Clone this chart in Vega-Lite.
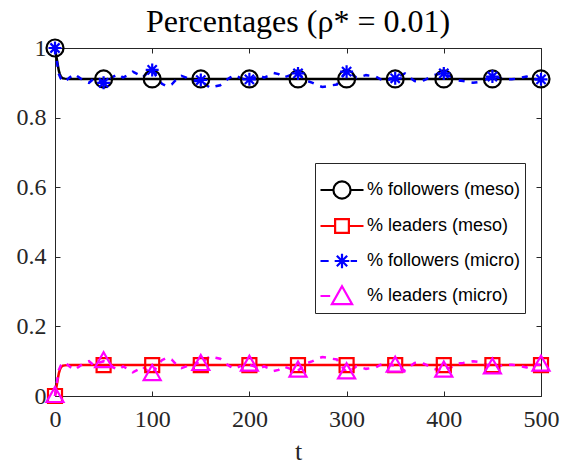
{
  "$schema": "https://vega.github.io/schema/vega-lite/v6.json",
  "width": 486,
  "height": 348,
  "autosize": {"type": "none"},
  "padding": {"left": 55, "top": 48, "right": 24, "bottom": 70},
  "background": "white",
  "title": {"text": "Percentages (ρ* = 0.01)", "font": "Liberation Serif", "fontSize": 32, "fontWeight": "normal", "color": "#000000", "baseline": "bottom", "offset": 8, "dy": 44},
  "datasets": {
    "meso": [
      {"s": "% followers (meso)", "t": 0, "v": 1}, {"s": "% followers (meso)", "t": 1, "v": 0.983}, {"s": "% followers (meso)", "t": 2, "v": 0.966}, {"s": "% followers (meso)", "t": 3, "v": 0.949}, {"s": "% followers (meso)", "t": 4, "v": 0.934}, {"s": "% followers (meso)", "t": 5, "v": 0.925}, {"s": "% followers (meso)", "t": 6, "v": 0.918}, {"s": "% followers (meso)", "t": 7, "v": 0.915}, {"s": "% followers (meso)", "t": 8, "v": 0.913}, {"s": "% followers (meso)", "t": 10, "v": 0.912}, {"s": "% followers (meso)", "t": 15, "v": 0.911}, {"s": "% followers (meso)", "t": 50, "v": 0.911}, {"s": "% followers (meso)", "t": 100, "v": 0.911}, {"s": "% followers (meso)", "t": 150, "v": 0.911}, {"s": "% followers (meso)", "t": 200, "v": 0.911}, {"s": "% followers (meso)", "t": 250, "v": 0.911}, {"s": "% followers (meso)", "t": 300, "v": 0.911}, {"s": "% followers (meso)", "t": 350, "v": 0.911}, {"s": "% followers (meso)", "t": 400, "v": 0.911}, {"s": "% followers (meso)", "t": 450, "v": 0.911}, {"s": "% followers (meso)", "t": 500, "v": 0.911},
      {"s": "% leaders (meso)", "t": 0, "v": 0}, {"s": "% leaders (meso)", "t": 1, "v": 0.017}, {"s": "% leaders (meso)", "t": 2, "v": 0.034}, {"s": "% leaders (meso)", "t": 3, "v": 0.051}, {"s": "% leaders (meso)", "t": 4, "v": 0.066}, {"s": "% leaders (meso)", "t": 5, "v": 0.075}, {"s": "% leaders (meso)", "t": 6, "v": 0.082}, {"s": "% leaders (meso)", "t": 7, "v": 0.085}, {"s": "% leaders (meso)", "t": 8, "v": 0.087}, {"s": "% leaders (meso)", "t": 10, "v": 0.088}, {"s": "% leaders (meso)", "t": 15, "v": 0.089}, {"s": "% leaders (meso)", "t": 50, "v": 0.089}, {"s": "% leaders (meso)", "t": 100, "v": 0.089}, {"s": "% leaders (meso)", "t": 150, "v": 0.089}, {"s": "% leaders (meso)", "t": 200, "v": 0.089}, {"s": "% leaders (meso)", "t": 250, "v": 0.089}, {"s": "% leaders (meso)", "t": 300, "v": 0.089}, {"s": "% leaders (meso)", "t": 350, "v": 0.089}, {"s": "% leaders (meso)", "t": 400, "v": 0.089}, {"s": "% leaders (meso)", "t": 450, "v": 0.089}, {"s": "% leaders (meso)", "t": 500, "v": 0.089}
    ],
    "micro": [
      {"s": "% followers (micro)", "t": 0, "v": 1}, {"s": "% followers (micro)", "t": 2, "v": 0.96}, {"s": "% followers (micro)", "t": 4, "v": 0.925}, {"s": "% followers (micro)", "t": 6, "v": 0.912}, {"s": "% followers (micro)", "t": 8, "v": 0.905}, {"s": "% followers (micro)", "t": 10, "v": 0.903}, {"s": "% followers (micro)", "t": 15, "v": 0.915}, {"s": "% followers (micro)", "t": 20, "v": 0.925}, {"s": "% followers (micro)", "t": 25, "v": 0.915}, {"s": "% followers (micro)", "t": 30, "v": 0.905}, {"s": "% followers (micro)", "t": 35, "v": 0.9}, {"s": "% followers (micro)", "t": 40, "v": 0.912}, {"s": "% followers (micro)", "t": 45, "v": 0.905}, {"s": "% followers (micro)", "t": 50, "v": 0.9}, {"s": "% followers (micro)", "t": 55, "v": 0.905}, {"s": "% followers (micro)", "t": 60, "v": 0.918}, {"s": "% followers (micro)", "t": 65, "v": 0.925}, {"s": "% followers (micro)", "t": 70, "v": 0.915}, {"s": "% followers (micro)", "t": 75, "v": 0.922}, {"s": "% followers (micro)", "t": 80, "v": 0.932}, {"s": "% followers (micro)", "t": 85, "v": 0.925}, {"s": "% followers (micro)", "t": 90, "v": 0.915}, {"s": "% followers (micro)", "t": 95, "v": 0.928}, {"s": "% followers (micro)", "t": 100, "v": 0.937}, {"s": "% followers (micro)", "t": 105, "v": 0.915}, {"s": "% followers (micro)", "t": 110, "v": 0.897}, {"s": "% followers (micro)", "t": 115, "v": 0.89}, {"s": "% followers (micro)", "t": 120, "v": 0.895}, {"s": "% followers (micro)", "t": 125, "v": 0.91}, {"s": "% followers (micro)", "t": 130, "v": 0.92}, {"s": "% followers (micro)", "t": 135, "v": 0.915}, {"s": "% followers (micro)", "t": 140, "v": 0.905}, {"s": "% followers (micro)", "t": 145, "v": 0.905}, {"s": "% followers (micro)", "t": 150, "v": 0.908}, {"s": "% followers (micro)", "t": 155, "v": 0.895}, {"s": "% followers (micro)", "t": 160, "v": 0.885}, {"s": "% followers (micro)", "t": 165, "v": 0.89}, {"s": "% followers (micro)", "t": 170, "v": 0.893}, {"s": "% followers (micro)", "t": 175, "v": 0.905}, {"s": "% followers (micro)", "t": 180, "v": 0.915}, {"s": "% followers (micro)", "t": 185, "v": 0.922}, {"s": "% followers (micro)", "t": 190, "v": 0.915}, {"s": "% followers (micro)", "t": 195, "v": 0.91}, {"s": "% followers (micro)", "t": 200, "v": 0.91}, {"s": "% followers (micro)", "t": 205, "v": 0.915}, {"s": "% followers (micro)", "t": 210, "v": 0.922}, {"s": "% followers (micro)", "t": 215, "v": 0.915}, {"s": "% followers (micro)", "t": 220, "v": 0.92}, {"s": "% followers (micro)", "t": 225, "v": 0.928}, {"s": "% followers (micro)", "t": 230, "v": 0.925}, {"s": "% followers (micro)", "t": 235, "v": 0.915}, {"s": "% followers (micro)", "t": 240, "v": 0.92}, {"s": "% followers (micro)", "t": 245, "v": 0.925}, {"s": "% followers (micro)", "t": 250, "v": 0.927}, {"s": "% followers (micro)", "t": 255, "v": 0.915}, {"s": "% followers (micro)", "t": 260, "v": 0.905}, {"s": "% followers (micro)", "t": 265, "v": 0.9}, {"s": "% followers (micro)", "t": 270, "v": 0.893}, {"s": "% followers (micro)", "t": 275, "v": 0.888}, {"s": "% followers (micro)", "t": 280, "v": 0.89}, {"s": "% followers (micro)", "t": 285, "v": 0.893}, {"s": "% followers (micro)", "t": 290, "v": 0.895}, {"s": "% followers (micro)", "t": 295, "v": 0.915}, {"s": "% followers (micro)", "t": 300, "v": 0.932}, {"s": "% followers (micro)", "t": 305, "v": 0.925}, {"s": "% followers (micro)", "t": 310, "v": 0.915}, {"s": "% followers (micro)", "t": 315, "v": 0.918}, {"s": "% followers (micro)", "t": 320, "v": 0.922}, {"s": "% followers (micro)", "t": 325, "v": 0.92}, {"s": "% followers (micro)", "t": 330, "v": 0.918}, {"s": "% followers (micro)", "t": 335, "v": 0.91}, {"s": "% followers (micro)", "t": 340, "v": 0.905}, {"s": "% followers (micro)", "t": 345, "v": 0.91}, {"s": "% followers (micro)", "t": 350, "v": 0.913}, {"s": "% followers (micro)", "t": 355, "v": 0.92}, {"s": "% followers (micro)", "t": 360, "v": 0.927}, {"s": "% followers (micro)", "t": 365, "v": 0.915}, {"s": "% followers (micro)", "t": 370, "v": 0.905}, {"s": "% followers (micro)", "t": 375, "v": 0.903}, {"s": "% followers (micro)", "t": 380, "v": 0.908}, {"s": "% followers (micro)", "t": 385, "v": 0.915}, {"s": "% followers (micro)", "t": 390, "v": 0.922}, {"s": "% followers (micro)", "t": 395, "v": 0.925}, {"s": "% followers (micro)", "t": 400, "v": 0.927}, {"s": "% followers (micro)", "t": 405, "v": 0.92}, {"s": "% followers (micro)", "t": 410, "v": 0.915}, {"s": "% followers (micro)", "t": 415, "v": 0.907}, {"s": "% followers (micro)", "t": 420, "v": 0.905}, {"s": "% followers (micro)", "t": 425, "v": 0.902}, {"s": "% followers (micro)", "t": 430, "v": 0.9}, {"s": "% followers (micro)", "t": 435, "v": 0.902}, {"s": "% followers (micro)", "t": 440, "v": 0.905}, {"s": "% followers (micro)", "t": 445, "v": 0.912}, {"s": "% followers (micro)", "t": 450, "v": 0.918}, {"s": "% followers (micro)", "t": 455, "v": 0.915}, {"s": "% followers (micro)", "t": 460, "v": 0.912}, {"s": "% followers (micro)", "t": 465, "v": 0.91}, {"s": "% followers (micro)", "t": 470, "v": 0.91}, {"s": "% followers (micro)", "t": 475, "v": 0.912}, {"s": "% followers (micro)", "t": 480, "v": 0.915}, {"s": "% followers (micro)", "t": 485, "v": 0.918}, {"s": "% followers (micro)", "t": 490, "v": 0.913}, {"s": "% followers (micro)", "t": 495, "v": 0.91}, {"s": "% followers (micro)", "t": 500, "v": 0.91},
      {"s": "% leaders (micro)", "t": 0, "v": 0}, {"s": "% leaders (micro)", "t": 2, "v": 0.04}, {"s": "% leaders (micro)", "t": 4, "v": 0.075}, {"s": "% leaders (micro)", "t": 6, "v": 0.088}, {"s": "% leaders (micro)", "t": 8, "v": 0.095}, {"s": "% leaders (micro)", "t": 10, "v": 0.097}, {"s": "% leaders (micro)", "t": 15, "v": 0.085}, {"s": "% leaders (micro)", "t": 20, "v": 0.075}, {"s": "% leaders (micro)", "t": 25, "v": 0.085}, {"s": "% leaders (micro)", "t": 30, "v": 0.095}, {"s": "% leaders (micro)", "t": 35, "v": 0.1}, {"s": "% leaders (micro)", "t": 40, "v": 0.088}, {"s": "% leaders (micro)", "t": 45, "v": 0.095}, {"s": "% leaders (micro)", "t": 50, "v": 0.1}, {"s": "% leaders (micro)", "t": 55, "v": 0.095}, {"s": "% leaders (micro)", "t": 60, "v": 0.082}, {"s": "% leaders (micro)", "t": 65, "v": 0.075}, {"s": "% leaders (micro)", "t": 70, "v": 0.085}, {"s": "% leaders (micro)", "t": 75, "v": 0.078}, {"s": "% leaders (micro)", "t": 80, "v": 0.068}, {"s": "% leaders (micro)", "t": 85, "v": 0.075}, {"s": "% leaders (micro)", "t": 90, "v": 0.085}, {"s": "% leaders (micro)", "t": 95, "v": 0.072}, {"s": "% leaders (micro)", "t": 100, "v": 0.063}, {"s": "% leaders (micro)", "t": 105, "v": 0.085}, {"s": "% leaders (micro)", "t": 110, "v": 0.103}, {"s": "% leaders (micro)", "t": 115, "v": 0.11}, {"s": "% leaders (micro)", "t": 120, "v": 0.105}, {"s": "% leaders (micro)", "t": 125, "v": 0.09}, {"s": "% leaders (micro)", "t": 130, "v": 0.08}, {"s": "% leaders (micro)", "t": 135, "v": 0.085}, {"s": "% leaders (micro)", "t": 140, "v": 0.095}, {"s": "% leaders (micro)", "t": 145, "v": 0.095}, {"s": "% leaders (micro)", "t": 150, "v": 0.092}, {"s": "% leaders (micro)", "t": 155, "v": 0.105}, {"s": "% leaders (micro)", "t": 160, "v": 0.115}, {"s": "% leaders (micro)", "t": 165, "v": 0.11}, {"s": "% leaders (micro)", "t": 170, "v": 0.107}, {"s": "% leaders (micro)", "t": 175, "v": 0.095}, {"s": "% leaders (micro)", "t": 180, "v": 0.085}, {"s": "% leaders (micro)", "t": 185, "v": 0.078}, {"s": "% leaders (micro)", "t": 190, "v": 0.085}, {"s": "% leaders (micro)", "t": 195, "v": 0.09}, {"s": "% leaders (micro)", "t": 200, "v": 0.09}, {"s": "% leaders (micro)", "t": 205, "v": 0.085}, {"s": "% leaders (micro)", "t": 210, "v": 0.078}, {"s": "% leaders (micro)", "t": 215, "v": 0.085}, {"s": "% leaders (micro)", "t": 220, "v": 0.08}, {"s": "% leaders (micro)", "t": 225, "v": 0.072}, {"s": "% leaders (micro)", "t": 230, "v": 0.075}, {"s": "% leaders (micro)", "t": 235, "v": 0.085}, {"s": "% leaders (micro)", "t": 240, "v": 0.08}, {"s": "% leaders (micro)", "t": 245, "v": 0.075}, {"s": "% leaders (micro)", "t": 250, "v": 0.073}, {"s": "% leaders (micro)", "t": 255, "v": 0.085}, {"s": "% leaders (micro)", "t": 260, "v": 0.095}, {"s": "% leaders (micro)", "t": 265, "v": 0.1}, {"s": "% leaders (micro)", "t": 270, "v": 0.107}, {"s": "% leaders (micro)", "t": 275, "v": 0.112}, {"s": "% leaders (micro)", "t": 280, "v": 0.11}, {"s": "% leaders (micro)", "t": 285, "v": 0.107}, {"s": "% leaders (micro)", "t": 290, "v": 0.105}, {"s": "% leaders (micro)", "t": 295, "v": 0.085}, {"s": "% leaders (micro)", "t": 300, "v": 0.068}, {"s": "% leaders (micro)", "t": 305, "v": 0.075}, {"s": "% leaders (micro)", "t": 310, "v": 0.085}, {"s": "% leaders (micro)", "t": 315, "v": 0.082}, {"s": "% leaders (micro)", "t": 320, "v": 0.078}, {"s": "% leaders (micro)", "t": 325, "v": 0.08}, {"s": "% leaders (micro)", "t": 330, "v": 0.082}, {"s": "% leaders (micro)", "t": 335, "v": 0.09}, {"s": "% leaders (micro)", "t": 340, "v": 0.095}, {"s": "% leaders (micro)", "t": 345, "v": 0.09}, {"s": "% leaders (micro)", "t": 350, "v": 0.087}, {"s": "% leaders (micro)", "t": 355, "v": 0.08}, {"s": "% leaders (micro)", "t": 360, "v": 0.073}, {"s": "% leaders (micro)", "t": 365, "v": 0.085}, {"s": "% leaders (micro)", "t": 370, "v": 0.095}, {"s": "% leaders (micro)", "t": 375, "v": 0.097}, {"s": "% leaders (micro)", "t": 380, "v": 0.092}, {"s": "% leaders (micro)", "t": 385, "v": 0.085}, {"s": "% leaders (micro)", "t": 390, "v": 0.078}, {"s": "% leaders (micro)", "t": 395, "v": 0.075}, {"s": "% leaders (micro)", "t": 400, "v": 0.073}, {"s": "% leaders (micro)", "t": 405, "v": 0.08}, {"s": "% leaders (micro)", "t": 410, "v": 0.085}, {"s": "% leaders (micro)", "t": 415, "v": 0.093}, {"s": "% leaders (micro)", "t": 420, "v": 0.095}, {"s": "% leaders (micro)", "t": 425, "v": 0.098}, {"s": "% leaders (micro)", "t": 430, "v": 0.1}, {"s": "% leaders (micro)", "t": 435, "v": 0.098}, {"s": "% leaders (micro)", "t": 440, "v": 0.095}, {"s": "% leaders (micro)", "t": 445, "v": 0.088}, {"s": "% leaders (micro)", "t": 450, "v": 0.082}, {"s": "% leaders (micro)", "t": 455, "v": 0.085}, {"s": "% leaders (micro)", "t": 460, "v": 0.088}, {"s": "% leaders (micro)", "t": 465, "v": 0.09}, {"s": "% leaders (micro)", "t": 470, "v": 0.09}, {"s": "% leaders (micro)", "t": 475, "v": 0.088}, {"s": "% leaders (micro)", "t": 480, "v": 0.085}, {"s": "% leaders (micro)", "t": 485, "v": 0.082}, {"s": "% leaders (micro)", "t": 490, "v": 0.087}, {"s": "% leaders (micro)", "t": 495, "v": 0.09}, {"s": "% leaders (micro)", "t": 500, "v": 0.09}
    ],
    "markers": [
      {"s": "% followers (meso)", "t": 0, "v": 1}, {"s": "% followers (meso)", "t": 50, "v": 0.911}, {"s": "% followers (meso)", "t": 100, "v": 0.911}, {"s": "% followers (meso)", "t": 150, "v": 0.911}, {"s": "% followers (meso)", "t": 200, "v": 0.911}, {"s": "% followers (meso)", "t": 250, "v": 0.911}, {"s": "% followers (meso)", "t": 300, "v": 0.911}, {"s": "% followers (meso)", "t": 350, "v": 0.911}, {"s": "% followers (meso)", "t": 400, "v": 0.911}, {"s": "% followers (meso)", "t": 450, "v": 0.911}, {"s": "% followers (meso)", "t": 500, "v": 0.911},
      {"s": "% leaders (meso)", "t": 0, "v": 0}, {"s": "% leaders (meso)", "t": 50, "v": 0.089}, {"s": "% leaders (meso)", "t": 100, "v": 0.089}, {"s": "% leaders (meso)", "t": 150, "v": 0.089}, {"s": "% leaders (meso)", "t": 200, "v": 0.089}, {"s": "% leaders (meso)", "t": 250, "v": 0.089}, {"s": "% leaders (meso)", "t": 300, "v": 0.089}, {"s": "% leaders (meso)", "t": 350, "v": 0.089}, {"s": "% leaders (meso)", "t": 400, "v": 0.089}, {"s": "% leaders (meso)", "t": 450, "v": 0.089}, {"s": "% leaders (meso)", "t": 500, "v": 0.089},
      {"s": "% followers (micro)", "t": 0, "v": 1}, {"s": "% followers (micro)", "t": 50, "v": 0.9}, {"s": "% followers (micro)", "t": 100, "v": 0.937}, {"s": "% followers (micro)", "t": 150, "v": 0.908}, {"s": "% followers (micro)", "t": 200, "v": 0.91}, {"s": "% followers (micro)", "t": 250, "v": 0.927}, {"s": "% followers (micro)", "t": 300, "v": 0.932}, {"s": "% followers (micro)", "t": 350, "v": 0.913}, {"s": "% followers (micro)", "t": 400, "v": 0.927}, {"s": "% followers (micro)", "t": 450, "v": 0.918}, {"s": "% followers (micro)", "t": 500, "v": 0.91},
      {"s": "% leaders (micro)", "t": 0, "v": 0}, {"s": "% leaders (micro)", "t": 50, "v": 0.1}, {"s": "% leaders (micro)", "t": 100, "v": 0.063}, {"s": "% leaders (micro)", "t": 150, "v": 0.092}, {"s": "% leaders (micro)", "t": 200, "v": 0.09}, {"s": "% leaders (micro)", "t": 250, "v": 0.073}, {"s": "% leaders (micro)", "t": 300, "v": 0.068}, {"s": "% leaders (micro)", "t": 350, "v": 0.087}, {"s": "% leaders (micro)", "t": 400, "v": 0.073}, {"s": "% leaders (micro)", "t": 450, "v": 0.082}, {"s": "% leaders (micro)", "t": 500, "v": 0.09}
    ]
  },
  "resolve": {"axis": {"x": "independent", "y": "independent"}},
  "layer": [
    {
      "data": {"name": "meso"},
      "mark": {"type": "line", "strokeWidth": 2.5},
      "encoding": {
        "x": {"field": "t", "type": "quantitative", "scale": {"domain": [0, 500], "nice": false, "zero": false},
              "axis": {"orient": "bottom", "values": [0, 100, 200, 300, 400, 500], "title": "t", "titleBaseline": "alphabetic", "titleY": 63, "labelPadding": 16}},
        "y": {"field": "v", "type": "quantitative", "scale": {"domain": [0, 1], "nice": false},
              "axis": {"orient": "left", "values": [0, 0.2, 0.4, 0.6, 0.8, 1], "format": "~g", "title": null, "labelPadding": 14}},
        "stroke": {"field": "s", "type": "nominal", "legend": null,
                   "scale": {"range": ["#000000", "#0000ff", "#ff0000", "#ff00ff"]}},
        "order": {"field": "t", "type": "quantitative"}
      }
    },
    {
      "data": {"name": "micro"},
      "mark": {"type": "line", "strokeWidth": 2.5, "strokeDash": [6, 7]},
      "encoding": {
        "x": {"field": "t", "type": "quantitative", "axis": null},
        "y": {"field": "v", "type": "quantitative", "axis": null},
        "stroke": {"field": "s", "type": "nominal", "legend": null},
        "order": {"field": "t", "type": "quantitative"}
      }
    },
    {
      "data": {"name": "markers"},
      "transform": [{"filter": "datum.s === '% followers (meso)'"}],
      "mark": {"type": "point", "filled": false, "strokeWidth": 2.2, "size": 400, "opacity": 1, "shape": "M-0.85,0A0.85,0.85 0 1,0 0.85,0A0.85,0.85 0 1,0 -0.85,0Z"},
      "encoding": {
        "x": {"field": "t", "type": "quantitative", "axis": {"orient": "top", "labels": false, "title": null, "values": [0, 100, 200, 300, 400, 500]}},
        "y": {"field": "v", "type": "quantitative", "axis": {"orient": "right", "labels": false, "title": null, "values": [0, 0.2, 0.4, 0.6, 0.8, 1]}},
        "stroke": {"field": "s", "type": "nominal", "legend": null}
      }
    },
    {
      "data": {"name": "markers"},
      "transform": [{"filter": "datum.s === '% leaders (meso)'"}],
      "mark": {"type": "point", "filled": false, "strokeWidth": 2.2, "size": 400, "opacity": 1, "shape": "M-0.7,-0.7H0.7V0.7H-0.7Z"},
      "encoding": {
        "x": {"field": "t", "type": "quantitative", "axis": null},
        "y": {"field": "v", "type": "quantitative", "axis": null},
        "stroke": {"field": "s", "type": "nominal", "legend": null}
      }
    },
    {
      "data": {"name": "markers"},
      "transform": [{"filter": "datum.s === '% followers (micro)'"}],
      "mark": {"type": "point", "filled": false, "strokeWidth": 2.2, "size": 400, "opacity": 1, "shape": "M0,-0.65V0.65M-0.65,0H0.65M-0.46,-0.46L0.46,0.46M-0.46,0.46L0.46,-0.46"},
      "encoding": {
        "x": {"field": "t", "type": "quantitative", "axis": null},
        "y": {"field": "v", "type": "quantitative", "axis": null},
        "stroke": {"field": "s", "type": "nominal", "legend": null}
      }
    },
    {
      "data": {"name": "markers"},
      "transform": [{"filter": "datum.s === '% leaders (micro)'"}],
      "mark": {"type": "point", "filled": false, "strokeWidth": 2.2, "size": 400, "opacity": 1, "shape": "M0,-0.9L0.85,0.6L-0.85,0.6Z"},
      "encoding": {
        "x": {"field": "t", "type": "quantitative", "axis": null},
        "y": {"field": "v", "type": "quantitative", "axis": null},
        "stroke": {"field": "s", "type": "nominal", "legend": null}
      }
    },
    {
      "data": {"name": "markers"},
      "mark": {"type": "point", "filled": false, "strokeWidth": 2.2, "size": 400, "opacity": 0},
      "encoding": {
        "x": {"field": "t", "type": "quantitative", "axis": null},
        "y": {"field": "v", "type": "quantitative", "axis": null},
        "color": {"field": "s", "type": "nominal",
                  "scale": {"domain": ["% followers (meso)", "% leaders (meso)", "% followers (micro)", "% leaders (micro)"], "range": ["#000000", "#ff0000", "#0000ff", "#ff00ff"]}},
        "shape": {"field": "s", "type": "nominal",
                  "scale": {"domain": ["% followers (meso)", "% leaders (meso)", "% followers (micro)", "% leaders (micro)"],
                            "range": ["M-1,0H-0.4M0.4,0H1M-0.4,0A0.4,0.4 0 1,0 0.4,0A0.4,0.4 0 1,0 -0.4,0Z", "M-1,0H-0.32M0.32,0H1M-0.32,-0.32H0.32V0.32H-0.32Z", "M-1,0H-0.62M0.4,0H0.7M0,-0.34V0.34M-0.34,0H0.34M-0.24,-0.24L0.24,0.24M-0.24,0.24L0.24,-0.24", "M-1,0H-0.55M0,-0.45L0.47,0.38L-0.47,0.38Z"]}}
      }
    }
  ],
  "config": {
    "view": {"stroke": null},
    "legend": {"orient": "none", "legendX": 260, "legendY": 115, "title": null, "direction": "vertical",
               "strokeColor": "#262626", "fillColor": "white", "padding": 4, "rowPadding": -12, "cornerRadius": 0,
               "labelFont": "Liberation Sans", "labelFontSize": 18, "labelColor": "#000000", "labelOffset": 2,
               "symbolSize": 1849, "symbolStrokeWidth": 2.2, "symbolOpacity": 1, "symbolFillColor": "transparent"},
    "axis": {"domainColor": "#262626", "tickColor": "#262626", "labelColor": "#262626", "labelFont": "Liberation Serif", "labelFontSize": 24,
             "grid": false, "tickSize": -5, "domainWidth": 1, "tickWidth": 1, "titleFont": "Liberation Serif", "titleFontSize": 26,
             "titleFontWeight": "normal", "titleColor": "#262626", "labelFlush": false, "labelOverlap": false}
  }
}
